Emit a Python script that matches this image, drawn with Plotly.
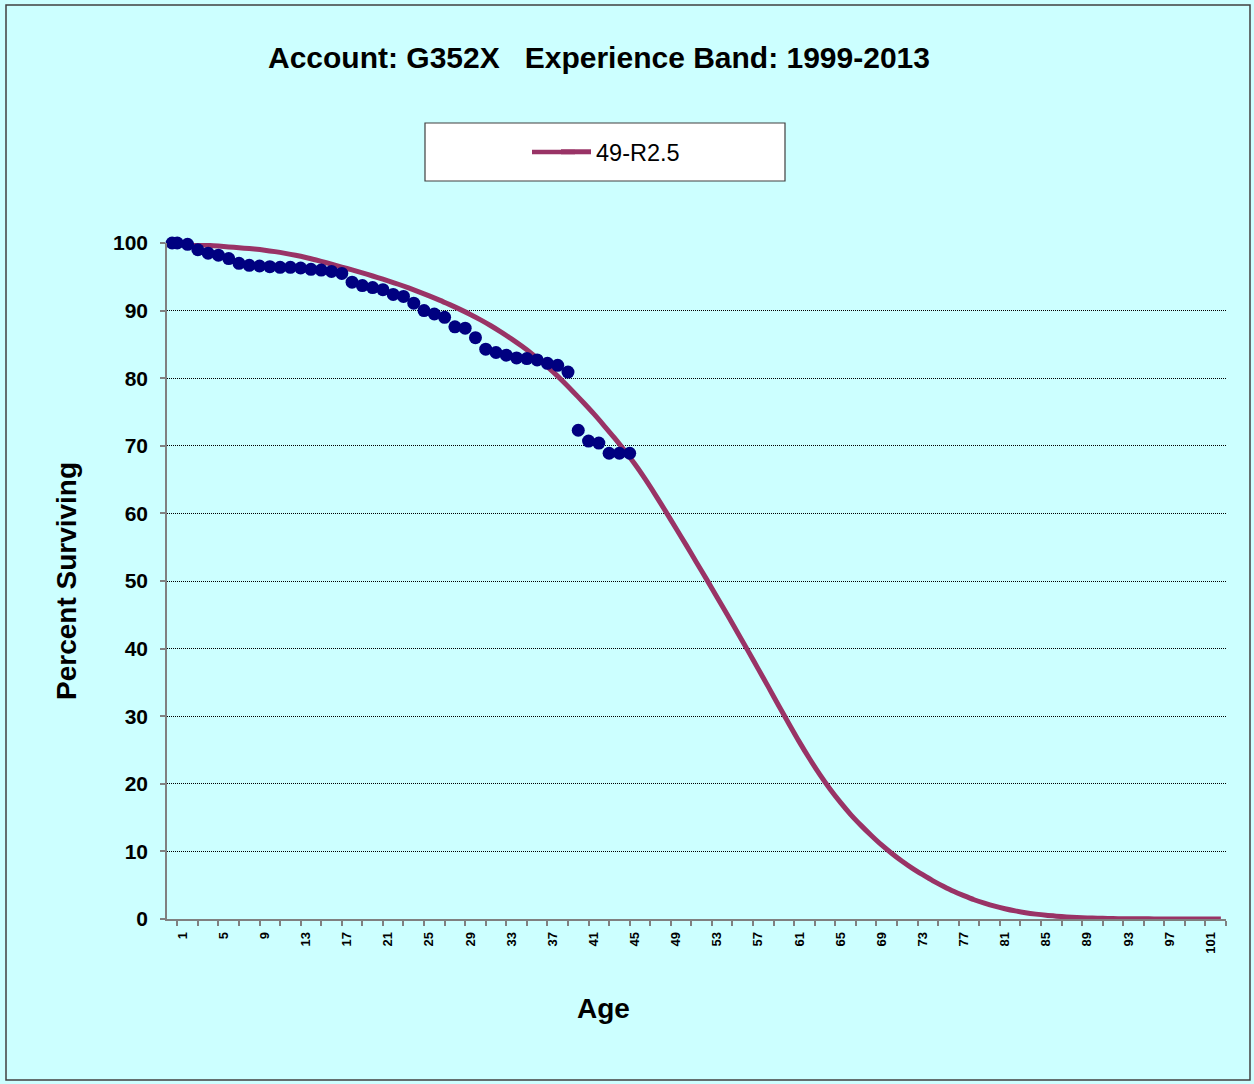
import plotly.graph_objects as go

# ---- data ----
curve_ages = list(range(0, 103))
curve_values = [
    100.0, 99.92, 99.8, 99.7, 99.6, 99.48, 99.36, 99.24, 99.1, 98.93,
    98.72, 98.47, 98.18, 97.85, 97.48, 97.08, 96.66, 96.23, 95.8, 95.35,
    94.88, 94.4, 93.9, 93.35, 92.78, 92.18, 91.55, 90.88, 90.18, 89.43,
    88.63, 87.76, 86.82, 85.82, 84.75, 83.6, 82.35, 81.0, 79.55, 78.0,
    76.4, 74.75, 73.0, 71.2, 69.3, 67.3, 65.1, 62.75, 60.3, 57.8,
    55.3, 52.75, 50.2, 47.6, 45.0, 42.35, 39.7, 37.0, 34.3, 31.55,
    28.85, 26.2, 23.7, 21.35, 19.2, 17.25, 15.45, 13.85, 12.35, 10.95,
    9.7, 8.55, 7.5, 6.55, 5.65, 4.85, 4.1, 3.45, 2.85, 2.35,
    1.9, 1.52, 1.2, 0.93, 0.72, 0.55, 0.42, 0.31, 0.23, 0.16,
    0.11, 0.08, 0.05, 0.04, 0.03, 0.02, 0.01, 0.01, 0.0, 0.0,
    0.0, 0.0, 0.0,
]

obs_ages = [0] + [i + 0.5 for i in range(45)]
obs_values = [
    100.0, 100.0, 99.8, 99.0, 98.5, 98.2, 97.7, 97.0, 96.7, 96.6,
    96.5, 96.4, 96.4, 96.3, 96.1, 96.0, 95.8, 95.5, 94.2, 93.7,
    93.4, 93.1, 92.4, 92.1, 91.1, 90.0, 89.5, 89.0, 87.6, 87.4,
    86.0, 84.3, 83.8, 83.4, 83.0, 82.9, 82.7, 82.2, 81.9, 80.9,
    72.3, 70.7, 70.4, 68.9, 68.9, 68.9,
]

x_tick_vals = list(range(1, 102, 4))
x_tick_text = [str(v) for v in x_tick_vals]
y_tick_vals = list(range(0, 101, 10))

title_text = "Account: G352X\u00a0\u00a0\u00a0Experience Band: 1999-2013"
series_name = "49-R2.5"

BG = "#CCFFFF"
LINE_COLOR = "#993366"
DOT_COLOR = "#000080"
FONT = "Liberation Sans, Arial, sans-serif"

# plot area in pixels
W, H = 1254, 1084
L, R, T, B = 167, 1226, 243, 919
PW, PH = R - L, B - T


def px(x):
    return (x - L) / PW


def py(y):
    return (B - y) / PH


fig = go.Figure()
fig.add_trace(go.Scatter(
    x=curve_ages, y=curve_values, mode="lines", name=series_name,
    line=dict(color=LINE_COLOR, width=5, shape="spline", smoothing=0.8),
    showlegend=True, cliponaxis=False,
))
fig.add_trace(go.Scatter(
    x=obs_ages, y=obs_values, mode="markers", name="Observed",
    marker=dict(color=DOT_COLOR, size=13, line=dict(width=0)),
    showlegend=False, cliponaxis=False,
))

fig.update_layout(
    width=W, height=H,
    margin=dict(l=L, r=W - R, t=T, b=H - B, pad=0),
    paper_bgcolor=BG, plot_bgcolor=BG,
    font=dict(family=FONT, color="black"),
    showlegend=True,
    legend=dict(
        x=px(556), y=py(152), xanchor="left", yanchor="middle",
        bgcolor="rgba(0,0,0,0)", borderwidth=0,
        font=dict(family=FONT, size=23.5, color="black"),
        itemwidth=30,
    ),
    xaxis=dict(
        range=[-0.5, 102.5], showgrid=False, zeroline=False,
        showline=True, linecolor="#808080", linewidth=1.5,
        tickmode="array", tickvals=x_tick_vals, ticktext=x_tick_text,
        ticks="", tickangle=-90,
        tickfont=dict(family=FONT, size=13, color="black", weight="bold"),
        ticklabelstandoff=6,
        minor=dict(ticks="outside", tick0=0.5, dtick=2, ticklen=5,
                   tickcolor="#808080", tickwidth=1.5, showgrid=False),
    ),
    yaxis=dict(
        range=[0, 100], showgrid=True, gridcolor="black", gridwidth=1,
        griddash="1px,1px", zeroline=False,
        showline=True, linecolor="#808080", linewidth=1.5,
        tickmode="array", tickvals=y_tick_vals,
        ticks="outside", ticklen=5, tickcolor="#808080", tickwidth=1.5,
        tickfont=dict(family=FONT, size=21, color="black", weight="bold"),
        ticklabelstandoff=8,
    ),
    shapes=[
        # outer chart border
        dict(type="rect", xref="paper", yref="paper",
             x0=px(6), x1=px(1250), y0=py(1080), y1=py(5),
             line=dict(color="#404040", width=1.5), layer="below"),
        # legend box
        dict(type="rect", xref="paper", yref="paper",
             x0=px(425), x1=px(785), y0=py(181), y1=py(123),
             line=dict(color="#404040", width=1.2), fillcolor="white",
             layer="below"),
        # legend sample extension
        dict(type="line", xref="paper", yref="paper",
             x0=px(532), x1=px(575), y0=py(152), y1=py(152),
             line=dict(color=LINE_COLOR, width=4.5), layer="above"),
    ],
    annotations=[
        dict(text=title_text, xref="paper", yref="paper",
             x=px(598.5), y=py(57), xanchor="center", yanchor="middle",
             showarrow=False,
             font=dict(family=FONT, size=30, color="black", weight="bold")),
        dict(text="Age", xref="paper", yref="paper",
             x=px(603), y=py(1009), xanchor="center", yanchor="middle",
             showarrow=False,
             font=dict(family=FONT, size=28, color="black", weight="bold")),
        dict(text="Percent Surviving", xref="paper", yref="paper",
             x=px(66), y=py(581), xanchor="center", yanchor="middle",
             textangle=-90, showarrow=False,
             font=dict(family=FONT, size=28, color="black", weight="bold")),
    ],
)

fig.write_html(
    "out.html",
    config={"displayModeBar": False},
    post_script="document.body.style.margin='0';document.body.style.padding='0';",
)
